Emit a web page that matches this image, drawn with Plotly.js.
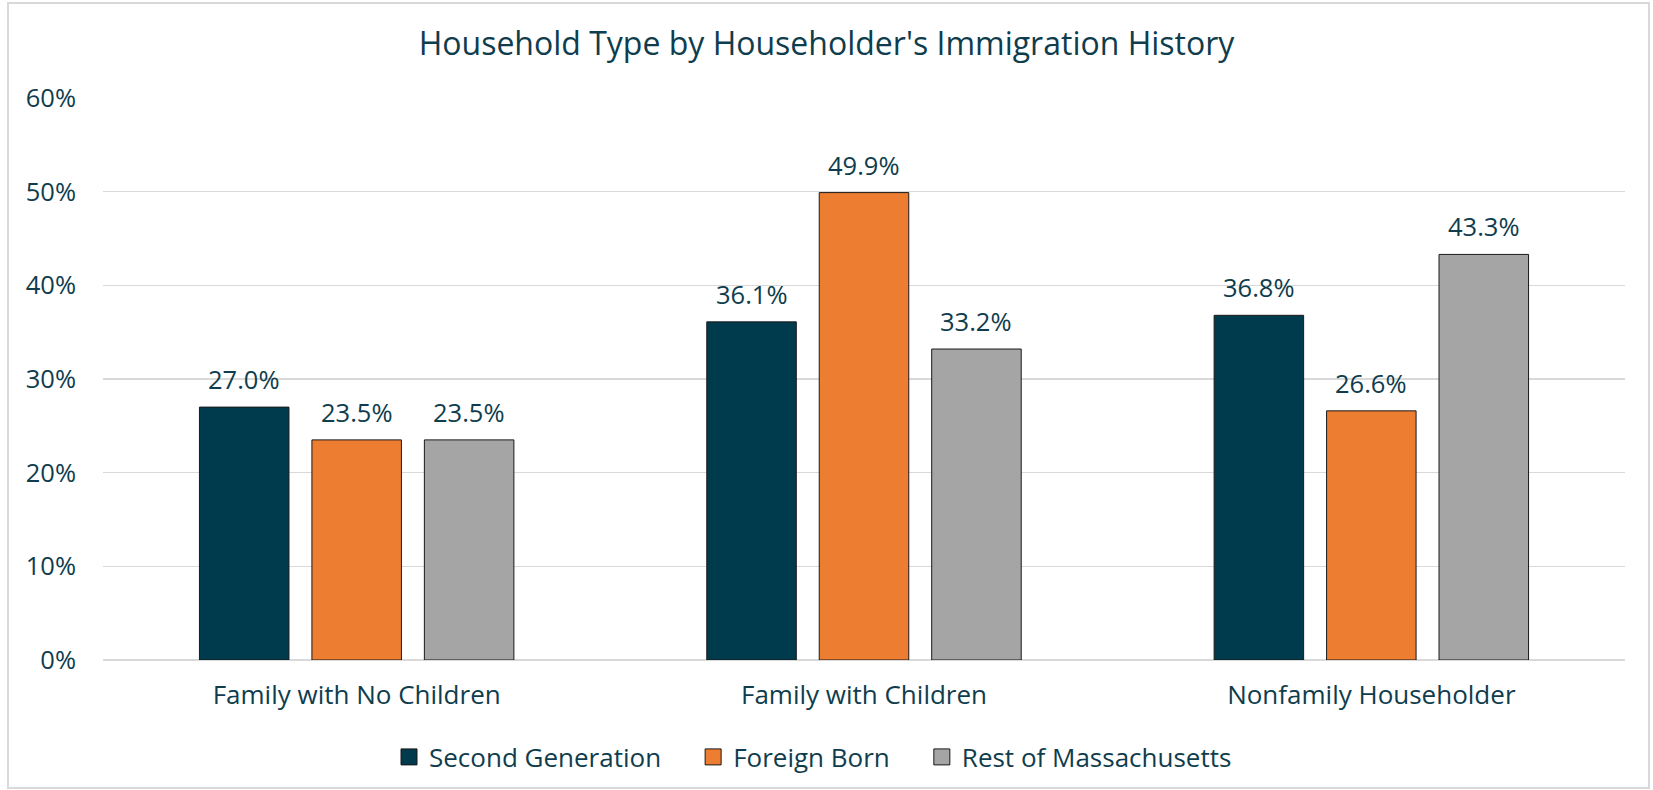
<!DOCTYPE html>
<html>
<head>
<meta charset="utf-8">
<script src="https://cdn.plot.ly/plotly-3.0.1.min.js"></script>
<style>html,body{margin:0;padding:0;background:#fff;}#chart{width:1653px;height:790px;}</style>
</head>
<body>
<div id="chart"></div>
<script>
const categories = ["Family with No Children", "Family with Children", "Nonfamily Householder"];
const seriesNames = ["Second Generation", "Foreign Born", "Rest of Massachusetts"];
const secondGeneration = [27.0, 36.1, 36.8];
const foreignBorn = [23.5, 49.9, 26.6];
const restOfMassachusetts = [23.5, 33.2, 43.3];
const yTickVals = [0, 10, 20, 30, 40, 50, 60];
const yTickText = ["0%", "10%", "20%", "30%", "40%", "50%", "60%"];

const colors = ["#003A4D", "#ED7D31", "#A5A5A5"];
const textColor = "#0F3D4D";
const fontFamily = "'Open Sans', 'Noto Sans', sans-serif";
const W = 1653, H = 790;
const margin = {l: 103, r: 28, t: 98, b: 130};
const bargap = 0.335, bargroupgap = 0.204;

const allSeries = [secondGeneration, foreignBorn, restOfMassachusetts];
const traces = allSeries.map((vals, j) => ({
  type: "bar",
  name: seriesNames[j],
  x: categories,
  y: vals,
  marker: {color: colors[j], line: {color: "#1a1a1a", width: 1}},
  showlegend: false,
  hoverinfo: "x+y"
}));
// legend entries (square markers)
seriesNames.forEach((n, j) => {
  traces.push({
    type: "scatter", mode: "markers", name: n + "\u00a0\u00a0\u00a0\u00a0",
    x: [null], y: [null],
    marker: {symbol: "square", size: 18, color: colors[j], line: {color: "#1a1a1a", width: 1}},
    showlegend: true, hoverinfo: "skip"
  });
});

const slot = (1 - bargap) / allSeries.length;
const annotations = [];
allSeries.forEach((vals, j) => {
  vals.forEach((v, i) => {
    annotations.push({
      x: i + (j - (allSeries.length - 1) / 2) * slot,
      y: v, xref: "x", yref: "y",
      text: v.toFixed(1) + "%",
      showarrow: false, yanchor: "bottom", yshift: 9,
      font: {family: fontFamily, size: 25.5, color: textColor}
    });
  });
});

const pw = W - margin.l - margin.r, ph = H - margin.t - margin.b;
const layout = {
  width: W, height: H,
  margin: margin,
  paper_bgcolor: "#fff", plot_bgcolor: "#fff",
  font: {family: fontFamily, size: 25, color: textColor},
  title: {
    text: "Household Type by Householder's Immigration History",
    font: {family: fontFamily, size: 32, color: textColor},
    x: 0.5, xref: "container", xanchor: "center",
    y: 1 - 44 / H, yref: "container", yanchor: "middle"
  },
  barmode: "group", bargap: bargap, bargroupgap: bargroupgap,
  xaxis: {
    type: "category",
    tickfont: {family: fontFamily, size: 26, color: textColor},
    ticklabelstandoff: 17,
    showgrid: false, showline: false, zeroline: false, ticks: ""
  },
  yaxis: {
    range: [0, 60],
    tickvals: yTickVals, ticktext: yTickText,
    tickfont: {family: fontFamily, size: 25.5, color: textColor},
    ticklabelstandoff: 26,
    showgrid: true, gridcolor: "#D9D9D9", gridwidth: 1.5,
    zeroline: true, zerolinecolor: "#D9D9D9", zerolinewidth: 1.5,
    showline: false, ticks: ""
  },
  legend: {
    orientation: "h",
    xref: "container", x: 0.5, xanchor: "center",
    yref: "container", y: 1 - 757 / H, yanchor: "middle",
    font: {family: fontFamily, size: 26, color: textColor},
    itemclick: false, itemdoubleclick: false
  },
  annotations: annotations,
  shapes: [{
    type: "rect", xref: "paper", yref: "paper",
    x0: (8 - margin.l) / pw, x1: (1649 - margin.l) / pw,
    y0: (H - margin.b - 788) / ph, y1: (H - margin.b - 3) / ph,
    line: {color: "#D9D9D9", width: 2}, fillcolor: "rgba(0,0,0,0)", layer: "below"
  }]
};

Plotly.newPlot("chart", traces, layout, {displayModeBar: false, staticPlot: true});
</script>
</body>
</html>
